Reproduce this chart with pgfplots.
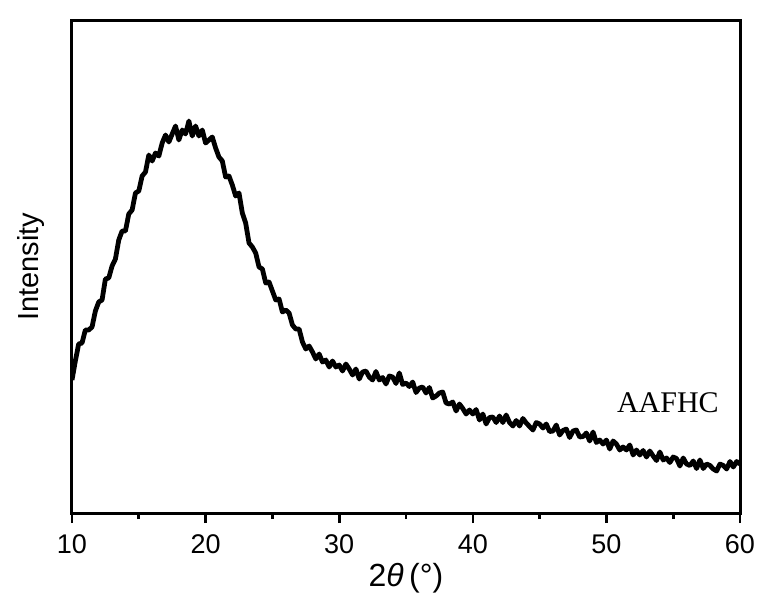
\documentclass[border=0pt]{standalone}
\usepackage{fontspec}
\setmainfont{Liberation Sans}
\newfontfamily\serifa{Liberation Serif}
\usepackage{pgfplots}
\pgfplotsset{compat=1.18}
\usetikzlibrary{calc}

\begin{document}
\begin{tikzpicture}
\begin{axis}[
  name=ax,
  scale only axis,
  width=334pt, height=246.5pt,
  xmin=10, xmax=60, ymin=0, ymax=493,
  xtick={10,20,...,60},
  minor x tick num=1,
  ytick=\empty,
  xtick pos=bottom,
  tick align=outside,
  major tick length=5pt,
  minor tick length=3pt,
  axis line style={line width=1.5pt},
  every tick/.style={line width=1.3pt, black},
  ticklabel style={font=\fontsize{13.5}{15}\selectfont},
  xticklabel style={yshift=-2.5pt},
  /pgf/number format/assume math mode=true,
  xlabel={2\textit{θ}\,(°)},
  ylabel={Intensity},
  xlabel style={font=\fontsize{16}{18}\selectfont, at={(axis description cs:0.5,-0.132)}, anchor=center},
  ylabel style={font=\fontsize{14.5}{16}\selectfont, at={(axis description cs:-0.062,0.5)}, anchor=center},
]
\addplot[black, line width=2.4pt, line join=round] coordinates {
(10.00,133) (10.25,152) (10.50,169) (10.75,170) (11.00,183) (11.25,183)
(11.50,186) (11.75,202) (12.00,211) (12.25,213) (12.50,234) (12.75,235)
(13.00,247) (13.25,254) (13.50,273) (13.75,282) (14.00,282) (14.25,299)
(14.50,303) (14.75,320) (15.00,322) (15.25,337) (15.50,341) (15.75,358)
(16.00,352) (16.25,360) (16.50,357) (16.75,370) (17.00,378) (17.25,371)
(17.50,379) (17.75,387) (18.00,373) (18.25,383) (18.50,379) (18.75,392)
(19.00,377) (19.25,387) (19.50,377) (19.75,383) (20.00,370) (20.25,373)
(20.50,376) (20.75,365) (21.00,356) (21.25,352) (21.50,336) (21.75,337)
(22.00,328) (22.25,317) (22.50,320) (22.75,300) (23.00,290) (23.25,270)
(23.50,266) (23.75,260) (24.00,246) (24.25,244) (24.50,230) (24.75,231)
(25.00,222) (25.25,213) (25.50,214) (25.75,201) (26.00,203) (26.25,200)
(26.50,188) (26.75,184) (27.00,184) (27.25,171) (27.50,164) (27.75,167)
(28.00,161) (28.25,154) (28.50,159) (28.75,151) (29.00,153) (29.25,146)
(29.50,152) (29.75,146)
(30.00,148) (30.25,142) (30.50,149) (30.75,144) (31.00,138) (31.25,144)
(31.50,134) (31.75,141) (32.00,142) (32.25,136) (32.50,133) (32.75,141.5)
(33.00,133) (33.25,135.5) (33.50,129) (33.75,137) (34.00,136) (34.25,129.5)
(34.50,140) (34.75,128.5) (35.00,130) (35.25,126.5) (35.50,131) (35.75,120.5)
(36.00,125) (36.25,126) (36.50,120) (36.75,125.5) (37.00,115) (37.25,117)
(37.50,120) (37.75,121) (38.00,110) (38.25,109) (38.50,111) (38.75,102)
(39.00,109) (39.25,104.5) (39.50,99) (39.75,103) (40.00,99) (40.25,103.5)
(40.50,93) (40.75,99) (41.00,89) (41.25,95.5) (41.50,96) (41.75,90.5)
(42.00,97) (42.25,90.5) (42.50,98) (42.75,90.5) (43.00,87) (43.25,92.5)
(43.50,87) (43.75,94.5) (44.00,90) (44.25,86.5) (44.50,83) (44.75,90.5)
(45.00,89) (45.25,85) (45.50,89) (45.75,81.5) (46.00,82) (46.25,88)
(46.50,78) (46.75,82.5) (47.00,84) (47.25,75.5) (47.50,82) (47.75,83)
(48.00,76) (48.25,76.5) (48.50,80) (48.75,72) (49.00,81) (49.25,70.5)
(49.50,73) (49.75,69) (50.00,73) (50.25,64) (50.50,72) (50.75,69)
(51.00,63) (51.25,66) (51.50,63) (51.75,68) (52.00,58) (52.25,63)
(52.50,58) (52.75,62.5) (53.00,56) (53.25,62) (53.50,57) (53.75,52.5)
(54.00,61) (54.25,53) (54.50,55) (54.75,50.5) (55.00,56) (55.25,54.5)
(55.50,47) (55.75,55) (56.00,49) (56.25,47.5) (56.50,52) (56.75,44.5)
(57.00,53) (57.25,44.5) (57.50,49) (57.75,47.5) (58.00,44) (58.25,42)
(58.50,49) (58.75,47.5) (59.00,44) (59.25,51.5) (59.50,46) (59.75,51.5)
(60.00,49)
};
\node[font=\serifa\fontsize{15}{17}\selectfont] at (axis cs:54.6,110) {AAFHC};
\end{axis}
\pgfresetboundingbox
\path ($(ax.south west)+(-36pt,-44pt)$) rectangle ($(ax.north east)+(10.5pt,10pt)$);
\end{tikzpicture}
\end{document}
